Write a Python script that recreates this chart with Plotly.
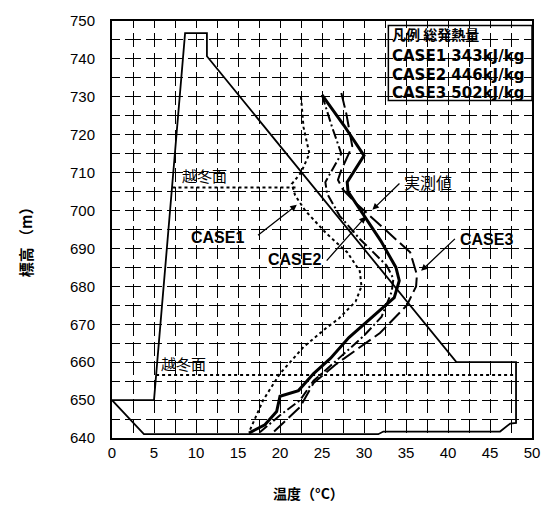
import plotly.graph_objects as go

# Axis ticks
temp_ticks = [0, 5, 10, 15, 20, 25, 30, 35, 40, 45, 50]
elev_ticks = [640, 650, 660, 670, 680, 690, 700, 710, 720, 730, 740, 750]

# Dam cross-section outline (temperature axis used as horizontal position)
dam_t = [0.0, 5.0, 8.7, 11.3, 11.3, 41.0, 48.1, 48.1, 47.4, 46.2, 32.3, 31.7, 3.8, 0.0]
dam_e = [650.0, 650.0, 746.8, 746.8, 740.7, 660.0, 660.0, 644.0, 643.8, 641.7, 641.7, 641.0, 641.0, 650.0]

# Measured temperature profile
meas_t = [25.0, 27.6, 30.0, 28.0, 28.1, 29.6, 32.0, 33.8, 34.2, 33.6, 31.0, 28.2, 26.0, 24.0, 22.2, 20.0, 19.6, 18.2, 16.3]
meas_e = [730.5, 722.5, 714.5, 707.5, 705.0, 700.0, 692.0, 685.0, 681.5, 677.0, 672.0, 666.5, 661.0, 657.0, 652.5, 651.0, 647.0, 643.5, 641.3]

# CASE1 (343 kJ/kg)
case1_t = [22.5, 22.8, 23.5, 22.5, 21.4, 21.8, 23.0, 25.5, 28.0, 29.5, 29.7, 29.0, 27.0, 25.5, 22.8, 20.0, 18.0, 16.4]
case1_e = [730.0, 722.0, 715.0, 710.0, 707.0, 704.0, 700.0, 694.0, 689.0, 684.0, 680.0, 676.0, 671.5, 669.0, 664.0, 657.0, 650.0, 642.0]

# CASE2 (446 kJ/kg)
case2_t = [25.0, 26.2, 27.3, 25.4, 25.6, 27.1, 29.5, 32.7, 33.5, 33.3, 32.1, 30.0, 27.1, 24.0, 22.4, 20.0, 17.6]
case2_e = [730.5, 722.0, 715.0, 707.5, 704.5, 698.6, 692.5, 685.5, 682.0, 678.6, 672.0, 667.0, 661.2, 655.1, 650.0, 646.0, 641.5]

# CASE3 (502 kJ/kg)
case3_t = [27.3, 27.9, 28.6, 27.3, 26.9, 27.5, 29.0, 31.5, 35.5, 36.3, 36.2, 35.1, 31.9, 26.7, 24.0, 22.4, 19.2]
case3_e = [731.0, 725.5, 717.0, 710.7, 708.1, 705.5, 702.0, 697.0, 689.0, 683.0, 680.0, 675.0, 667.7, 659.5, 654.5, 648.2, 641.5]

# Overwintering surfaces
winter_upper_t = [7.2, 22.0]
winter_upper_e = [706.1, 706.1]
winter_lower_t = [5.25, 47.8]
winter_lower_e = [656.6, 656.6]

legend_rows = ["凡例 総発熱量", "CASE1 343kJ/kg", "CASE2 446kJ/kg", "CASE3 502kJ/kg"]

fig = go.Figure()

def add_line(t, e, width, dash):
    fig.add_trace(go.Scatter(x=t, y=e, mode="lines",
                             line=dict(color="black", width=width, dash=dash),
                             hoverinfo="skip", showlegend=False))

add_line(dam_t, dam_e, 1.8, "solid")
add_line(winter_upper_t, winter_upper_e, 2, "3px,3px")
add_line(winter_lower_t, winter_lower_e, 2, "3px,3px")
add_line(case1_t, case1_e, 2, "3px,3px")
add_line(case2_t, case2_e, 2, "10px,3px,2px,3px")
add_line(case3_t, case3_e, 2, "15px,5px")
add_line(meas_t, meas_e, 3, "solid")

grid_h = "8px,5px,8px,0px"          # horizontal grid lines (21 px period)
grid_v = "7px,5.27px,7px,0px"       # vertical grid lines (19.27 px period)

tick_font = dict(family="Liberation Sans, Arial, sans-serif", size=15, color="black")

fig.update_xaxes(range=[0, 50], tickvals=temp_ticks, ticktext=[str(v) for v in temp_ticks],
                 showgrid=True, gridcolor="black", gridwidth=1.3, griddash=grid_v,
                 minor=dict(dtick=2.5, tick0=0, showgrid=True, gridcolor="black",
                            gridwidth=1.3, griddash=grid_v),
                 showline=True, linecolor="black", linewidth=2, mirror=True,
                 ticks="", zeroline=False, tickfont=tick_font)
fig.update_yaxes(range=[640, 750], tickvals=elev_ticks, ticktext=[str(v) for v in elev_ticks],
                 showgrid=True, gridcolor="black", gridwidth=1.3, griddash=grid_h,
                 minor=dict(dtick=5, tick0=640, showgrid=True, gridcolor="black",
                            gridwidth=1.3, griddash=grid_h),
                 showline=True, linecolor="black", linewidth=2, mirror=True,
                 ticks="", zeroline=False, tickfont=tick_font, ticklabelstandoff=12)

jp = "Noto Sans CJK JP"
lab = "Liberation Sans, Arial, sans-serif"

annotations = []

def text(x, y, s, size, family, bold=True, xanchor="center"):
    annotations.append(dict(x=x, y=y, xref="x", yref="y", text=f"<b>{s}</b>" if bold else s,
                            showarrow=False, xanchor=xanchor, yanchor="middle",
                            font=dict(family=family, size=size, color="black")))

def arrow(x0, y0, x1, y1):
    annotations.append(dict(x=x1, y=y1, ax=x0, ay=y0, xref="x", yref="y",
                            axref="x", ayref="y", text="", showarrow=True,
                            arrowhead=2, arrowsize=1, arrowwidth=1.3,
                            arrowcolor="black", standoff=0, startstandoff=0))

text(11.07, 709.3, "越冬面", 15, jp, bold=False)
text(8.57, 659.7, "越冬面", 15, jp, bold=False)
text(12.6, 692.9, "CASE1", 16, lab)
text(21.7, 687.2, "CASE2", 16, lab)
text(37.6, 707.6, "実測値", 16, jp, bold=False)
text(44.6, 692.4, "CASE3", 16, lab)

arrow(17.2, 693.2, 22.0, 701.5)
arrow(25.4, 686.4, 30.2, 698.4)
arrow(34.4, 707.5, 31.0, 700.2)
arrow(41.0, 692.9, 36.8, 684.1)

# Legend box
fig.add_shape(type="rect", x0=32.9, x1=50, y0=729.0, y1=748.8, xref="x", yref="y",
              line=dict(color="black", width=1.5), fillcolor="rgba(0,0,0,0)")
legend_y = [746.7, 740.8, 735.7, 731.0]
for row, yy in zip(legend_rows, legend_y):
    fam = jp if row.startswith("凡例") else "DejaVu Sans, sans-serif"
    text(33.1, yy, row, 14 if fam == jp else 15, fam, bold=True, xanchor="left")

# Axis titles, placed in pixel terms via paper coordinates
pw, ph = 420, 424
annotations.append(dict(x=(25 - 112) / pw, y=(438 - 235) / ph, xref="paper", yref="paper",
                        text="<b>標高 （m）</b>", showarrow=False, textangle=-90,
                        xanchor="center", yanchor="middle",
                        font=dict(family=jp, size=15, color="black")))
annotations.append(dict(x=(308 - 112) / pw, y=-(494 - 438) / ph, xref="paper", yref="paper",
                        text="<b>温度（°C）</b>", showarrow=False,
                        xanchor="center", yanchor="middle",
                        font=dict(family=jp, size=14, color="black")))

fig.update_layout(
    width=552, height=506,
    margin=dict(l=112, r=20, t=14, b=68),
    paper_bgcolor="white", plot_bgcolor="white",
    showlegend=False,
    annotations=annotations,
)

fig.write_html("out.html")
